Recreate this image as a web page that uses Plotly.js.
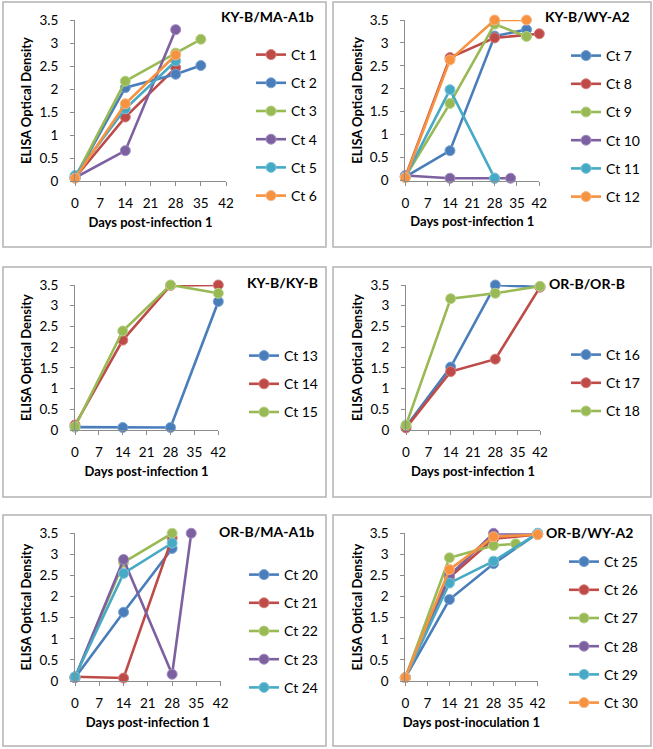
<!DOCTYPE html>
<html><head><meta charset="utf-8">
<script src="https://cdn.plot.ly/plotly-3.0.1.min.js"></script>
<style>html,body{margin:0;padding:0;background:#fff}#chart{width:653px;height:749px}</style>
</head><body><div id="chart"></div>
<script>
// ---------- DATA ----------
const panelTitles = ['KY-B/MA-A1b','KY-B/WY-A2','KY-B/KY-B','OR-B/OR-B','OR-B/MA-A1b','OR-B/WY-A2'];
const xTitles = ['Days post-infection 1','Days post-infection 1','Days post-infection 1','Days post-infection 1','Days post-infection 1','Days post-inoculation 1'];
const yTitle = 'ELISA Optical Density';
const xTickVals = [0,7,14,21,28,35,42];
const yTickVals = [0,0.5,1,1.5,2,2.5,3,3.5];
const yTickText = ['0','0.5','1','1.5','2','2.5','3','3.5'];

// Panel 1: KY-B/MA-A1b
const kyMaNames = ['Ct 1','Ct 2','Ct 3','Ct 4','Ct 5','Ct 6'];
const kyMaDays = [[0,14,28],[0,14,28,35],[0,14,28,35],[0,14,28],[0,14,28],[0,14,28]];
const kyMaOD = [[0.07,1.39,2.46],[0.07,2.03,2.32,2.51],[0.07,2.17,2.78,3.08],[0.07,0.66,3.29],[0.12,1.57,2.61],[0.06,1.68,2.74]];

// Panel 2: KY-B/WY-A2
const kyWyNames = ['Ct 7','Ct 8','Ct 9','Ct 10','Ct 11','Ct 12'];
const kyWyDays = [[0,14,28,38],[0,14,28,42],[0,14,28,38],[0,14,28,33],[0,14,28],[0,14,28,38]];
const kyWyOD = [[0.08,0.65,3.15,3.29],[0.08,2.68,3.11,3.2],[0.08,1.68,3.41,3.14],[0.11,0.05,0.05,0.05],[0.08,1.98,0.05],[0.06,2.63,3.5,3.5]];

// Panel 3: KY-B/KY-B
const kyKyNames = ['Ct 13','Ct 14','Ct 15'];
const kyKyDays = [[0,14,28,42],[0,14,28,42],[0,14,28,42]];
const kyKyOD = [[0.07,0.06,0.06,3.1],[0.12,2.17,3.49,3.5],[0.08,2.39,3.5,3.3]];

// Panel 4: OR-B/OR-B
const orOrNames = ['Ct 16','Ct 17','Ct 18'];
const orOrDays = [[0,14,28,42],[0,14,28,42],[0,14,28,42]];
const orOrOD = [[0.08,1.52,3.5,3.45],[0.05,1.41,1.71,3.45],[0.12,3.17,3.3,3.47]];

// Panel 5: OR-B/MA-A1b
const orMaNames = ['Ct 20','Ct 21','Ct 22','Ct 23','Ct 24'];
const orMaDays = [[0,14,28],[0,14,28],[0,14,28],[0,14,28,33.5],[0,14,28]];
const orMaOD = [[0.08,1.63,3.14],[0.1,0.07,3.39],[0.08,2.81,3.5],[0.08,2.88,0.16,3.5],[0.1,2.55,3.27]];

// Panel 6: OR-B/WY-A2
const orWyNames = ['Ct 25','Ct 26','Ct 27','Ct 28','Ct 29','Ct 30'];
const orWyDays = [[0,14,28,42],[0,14,28,42],[0,14,28,35],[0,14,28,42],[0,14,28,42],[0,14,28,42]];
const orWyOD = [[0.08,1.93,2.78,3.5],[0.08,2.45,3.37,3.47],[0.08,2.92,3.21,3.25],[0.08,2.5,3.5,3.48],[0.08,2.32,2.84,3.5],[0.08,2.64,3.42,3.47]];

// ---------- STYLE / LAYOUT ----------
const W = 653, H = 749;
const colors = ['#4a7ebb','#be4b48','#98b954','#7d60a0','#46aac5','#f69240'];
const edge   = ['#7aa3d4','#d67d7a','#b9d48a','#a38cc2','#80c6da','#f9b685'];
const colorIdx = [
  [1,0,2,3,4,5],
  [0,1,2,3,4,5],
  [0,1,2],
  [0,1,2],
  [0,1,2,3,4],
  [0,1,2,3,4,5]
];
const panels = [
  {names:kyMaNames, days:kyMaDays, od:kyMaOD},
  {names:kyWyNames, days:kyWyDays, od:kyWyOD},
  {names:kyKyNames, days:kyKyDays, od:kyKyOD},
  {names:orOrNames, days:orOrDays, od:orOrOD},
  {names:orMaNames, days:orMaDays, od:orMaOD},
  {names:orWyNames, days:orWyDays, od:orWyOD}
];
// plot areas in px: [left, right, top, bottom]
const areas = [
  [75,226,20,181],
  [405.3,539.3,20,180.5],
  [75,218.3,285,430],
  [406,540,285,430],
  [75,220.7,533.3,681],
  [405.3,537.7,533.3,681]
];
// outer boxes in px: [left, right, top, bottom]
const boxes = [
  [3,326,2,247],[333,651,2,247],
  [3,326,267,497],[333,651,267,497],
  [3,326,515,746],[333,651,515,746]
];
// legend top-left px
const legendPos = [[251,39],[566,40],[244,340],[566,339],[244,559],[564,546]];
// panel title right edge / center y px
const titlePos = [[316,16],[632,16],[320,282],[627,283],[316,531],[635,532]];

const px = v => v / W;
const py = v => 1 - v / H;
const FONT = 'Lato, "Open Sans", sans-serif';

const traces = [];
const layout = {
  width: W, height: H,
  margin: {l:0, r:0, t:0, b:0},
  paper_bgcolor: '#fff', plot_bgcolor: 'rgba(0,0,0,0)',
  font: {family: FONT, size: 13, color: '#000'},
  showlegend: true,
  shapes: [], annotations: []
};

panels.forEach((p, i) => {
  const n = i + 1;
  const xa = 'x' + (n === 1 ? '' : n), ya = 'y' + (n === 1 ? '' : n);
  const legendName = 'legend' + (n === 1 ? '' : n);
  p.names.forEach((name, j) => {
    const c = colorIdx[i][j];
    traces.push({
      type: 'scatter', mode: 'lines+markers',
      x: p.days[j], y: p.od[j], name: name,
      xaxis: xa, yaxis: ya, legend: legendName, legendgroup: 'g' + n + '_' + j,
      cliponaxis: false,
      line: {color: colors[c], width: 2.6},
      marker: {color: colors[c], size: 10, line: {color: edge[c], width: 1}}
    });
  });
  const a = areas[i];
  const axisStyle = {
    showgrid: false, zeroline: false, showline: true, linecolor: '#8c8c8c', linewidth: 1,
    ticks: 'outside', ticklen: 4, tickcolor: '#8c8c8c', tickwidth: 1,
    tickfont: {family: FONT, size: 13.5, color: '#000'}, fixedrange: true
  };
  layout['xaxis' + (n === 1 ? '' : n)] = Object.assign({}, axisStyle, {
    domain: [px(a[0]), px(a[1])], anchor: ya, range: [0, 42],
    tickvals: xTickVals, ticktext: xTickVals.map(String), ticklabelstandoff: 6,
    title: {text: xTitles[i], font: {family: FONT, size: 13, weight: 'bold', color: '#000'}, standoff: 7}
  });
  layout['yaxis' + (n === 1 ? '' : n)] = Object.assign({}, axisStyle, {
    domain: [py(a[3]), py(a[2])], anchor: xa, range: [0, 3.5],
    tickvals: yTickVals, ticktext: yTickText, ticklabelstandoff: 9,
    title: {text: yTitle, font: {family: FONT, size: 13, weight: 'bold', color: '#000'}, standoff: 4}
  });
  layout[legendName] = {
    x: px(legendPos[i][0]), y: py(legendPos[i][1]), xanchor: 'left', yanchor: 'top',
    xref: 'paper', yref: 'paper',
    bgcolor: 'rgba(0,0,0,0)', borderwidth: 0,
    traceorder: 'grouped', tracegroupgap: 7,
    font: {family: FONT, size: 14, color: '#000'}
  };
  const b = boxes[i];
  layout.shapes.push({type: 'rect', xref: 'paper', yref: 'paper',
    x0: px(b[0]), x1: px(b[1]), y0: py(b[3]), y1: py(b[2]),
    line: {color: '#b3b3b3', width: 1.5}, fillcolor: 'rgba(0,0,0,0)', layer: 'below'});
  layout.annotations.push({xref: 'paper', yref: 'paper', x: px(titlePos[i][0]), y: py(titlePos[i][1]),
    xanchor: 'right', yanchor: 'middle', showarrow: false, text: panelTitles[i],
    font: {family: FONT, size: 14, weight: 'bold', color: '#000'}});
});

Plotly.newPlot('chart', traces, layout, {staticPlot: true, displayModeBar: false});
</script>
</body></html>
